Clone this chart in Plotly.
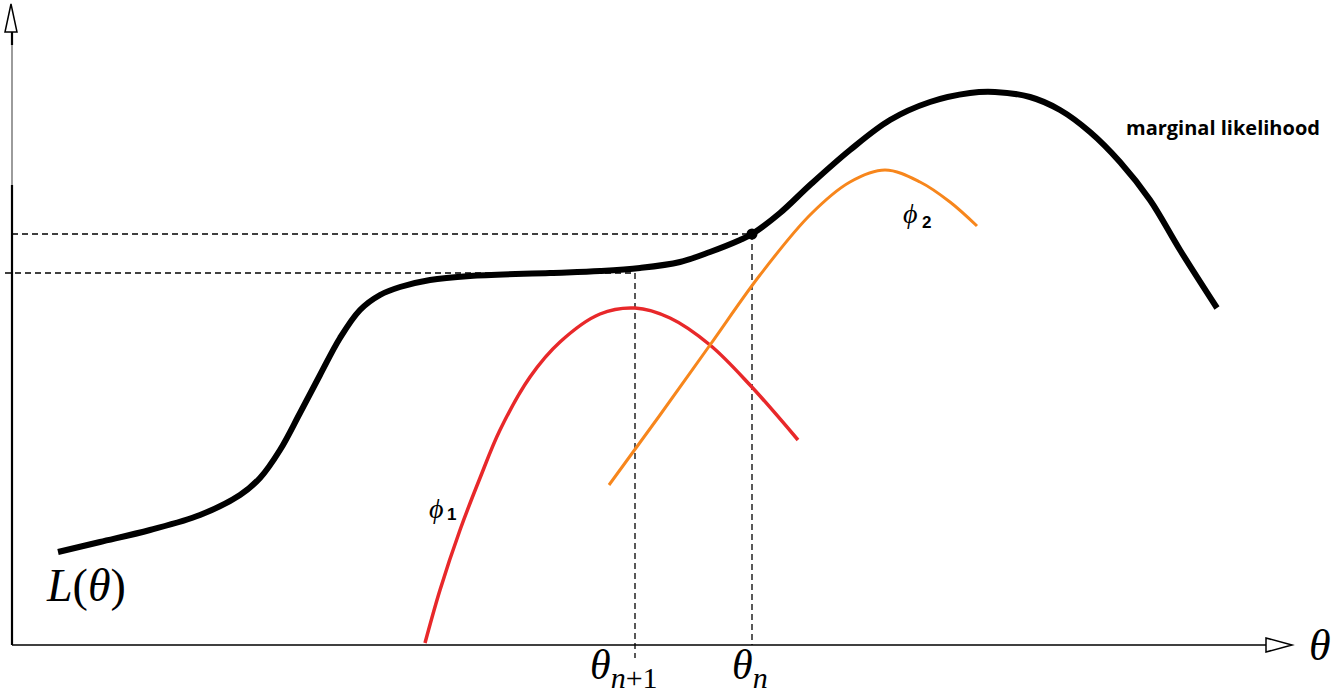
import plotly.graph_objects as go

H = 697  # canvas height used to flip pixel-like y values

# ---- data (x, height above bottom of canvas) ----
lik_x = [58, 100, 150, 200, 240, 260, 280, 300, 320, 340, 360, 380, 400, 430, 470, 550, 600, 640, 680, 710, 740, 752,
         780, 810, 850, 890, 930, 970, 995, 1030, 1060, 1090, 1120, 1150, 1180, 1217]
lik_y = [145, 155, 167, 182, 202, 219, 247, 284, 322, 359, 387, 402, 410, 417, 421, 424, 426, 429, 435, 445, 457, 463,
         484, 512, 547, 577, 595, 604, 605, 600, 587, 565, 535, 497, 447, 389]

phi1_x = [425, 440, 460, 480, 500, 530, 560, 600, 635, 670, 710, 750, 798]
phi1_y = [54, 107, 167, 219, 267, 320, 355, 383, 389, 379, 352, 312, 257]

phi2_x = [609, 660, 710, 760, 810, 850, 885, 920, 950, 977]
phi2_y = [212, 282, 352, 422, 482, 515, 527, 515, 495, 471]

theta_n = 752
theta_n1 = 635
L_theta_n = 463
L_theta_n1 = 424

x_axis_y = 52
y_axis_x = 12

fig = go.Figure()

dash = dict(color="#000", width=1.3, dash="6px,4px")
# dashed guide lines
fig.add_trace(go.Scatter(x=[y_axis_x, theta_n], y=[L_theta_n, L_theta_n], mode="lines", line=dash, hoverinfo="skip"))
fig.add_trace(go.Scatter(x=[5, theta_n1], y=[L_theta_n1, L_theta_n1], mode="lines", line=dash, hoverinfo="skip"))
fig.add_trace(go.Scatter(x=[theta_n1, theta_n1], y=[L_theta_n1, x_axis_y - 13], mode="lines", line=dash, hoverinfo="skip"))
fig.add_trace(go.Scatter(x=[theta_n, theta_n], y=[L_theta_n, x_axis_y], mode="lines", line=dash, hoverinfo="skip"))

# curves
fig.add_trace(go.Scatter(x=phi1_x, y=phi1_y, mode="lines", line=dict(color="#e8282a", width=3.5, shape="spline")))
fig.add_trace(go.Scatter(x=phi2_x, y=phi2_y, mode="lines", line=dict(color="#f7861c", width=3, shape="spline")))
fig.add_trace(go.Scatter(x=lik_x, y=lik_y, mode="lines", line=dict(color="black", width=6, shape="spline")))
fig.add_trace(go.Scatter(x=[theta_n], y=[L_theta_n], mode="markers", marker=dict(color="black", size=11)))

# axes with open arrowheads
fig.add_shape(type="line", x0=y_axis_x, x1=1266, y0=x_axis_y, y1=x_axis_y, line=dict(color="black", width=1.5))
fig.add_shape(type="path", path=f"M 1266 {x_axis_y+7} L 1292 {x_axis_y} L 1266 {x_axis_y-7} Z",
              line=dict(color="black", width=1.5), fillcolor="white")
fig.add_shape(type="line", x0=y_axis_x, x1=y_axis_x, y0=x_axis_y, y1=H - 185, line=dict(color="black", width=2.2))
fig.add_shape(type="line", x0=y_axis_x, x1=y_axis_x, y0=H - 185, y1=H - 45, line=dict(color="#666", width=1.3))
fig.add_shape(type="line", x0=y_axis_x, x1=y_axis_x, y0=H - 45, y1=H - 32, line=dict(color="black", width=2.2))
fig.add_shape(type="path", path=f"M 5 {H-32} L 11 {H-4} L 17 {H-32} Z",
              line=dict(color="black", width=1.5), fillcolor="white")

serif = "Liberation Serif"
ann = [
    dict(x=1223, y=H - 127, text="<b>marginal likelihood</b>", font=dict(family="Open Sans", size=20, color="black")),
    dict(x=86, y=H - 585, text="<i>L</i>(<i>θ</i>)", font=dict(family=serif, size=46, color="black")),
    dict(x=624, y=H - 668, text="<i>θ</i><sub><span style='font-size:30px'><i>n</i>+1</span></sub>",
         font=dict(family=serif, size=42, color="black")),
    dict(x=750, y=H - 668, text="<i>θ</i><sub><span style='font-size:30px'><i>n</i></span></sub>",
         font=dict(family=serif, size=42, color="black")),
    dict(x=1320, y=H - 645, text="<i>θ</i>", font=dict(family=serif, size=44, color="black")),
    dict(x=436, y=H - 508, text="<i>ϕ</i>", font=dict(family=serif, size=28, color="black")),
    dict(x=451, y=H - 514, text="<b>1</b>", font=dict(family="Liberation Sans", size=17, color="black")),
    dict(x=910, y=H - 213, text="<i>ϕ</i>", font=dict(family=serif, size=28, color="black")),
    dict(x=926, y=H - 222, text="<b>2</b>", font=dict(family="Liberation Sans", size=17, color="black")),
]
for a in ann:
    fig.add_annotation(showarrow=False, xref="x", yref="y", **a)

fig.update_layout(
    width=1334, height=697, margin=dict(l=0, r=0, t=0, b=0),
    plot_bgcolor="white", paper_bgcolor="white", showlegend=False,
    xaxis=dict(range=[0, 1334], visible=False, fixedrange=True),
    yaxis=dict(range=[0, H], visible=False, fixedrange=True),
)
fig.write_html("out.html", config={"displayModeBar": False})
